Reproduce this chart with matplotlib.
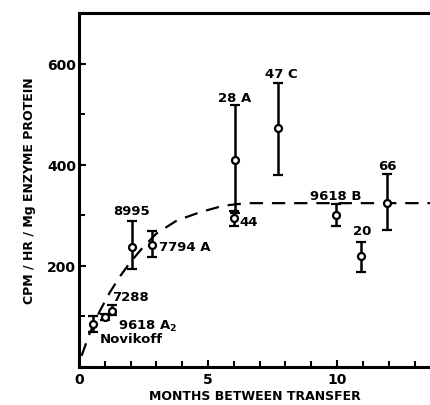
import matplotlib
matplotlib.use("Agg")
import matplotlib.pyplot as plt
from matplotlib.ticker import MultipleLocator, FixedLocator

plt.rcParams['font.family'] = ['DejaVu Sans']
plt.rcParams['font.weight'] = 'bold'

# Data
labels = ["Novikoff", "9618 A$_\\mathbf{2}$", "7288", "8995", "7794 A", "28 A", "44", "47 C", "9618 B", "20", "66"]
months = [0.53, 1.0, 1.26, 2.04, 2.81, 6.03, 6.0, 7.71, 9.97, 10.94, 11.93]
cpm = [85, 98, 111, 237, 242, 410, 295, 472, 301, 219, 325]
err_low = [16, 6, 8, 44, 25, 105, 17, 93, 22, 31, 54]
err_high = [16, 6, 11, 52, 27, 108, 13, 89, 21, 29, 57]

# label anchor positions (data coords) and alignment
label_x = [0.81, 1.51, 1.30, 2.05, 3.1, 6.03, 6.23, 7.84, 9.94, 10.99, 11.95]
label_y = [57, 82, 140, 310, 239, 533, 288, 580, 340, 269, 399]
label_ha = ["left", "left", "left", "center", "left", "center", "left", "center", "center", "center", "center"]

# dashed fit curve
curve_x = [0.1, 0.4, 0.8, 1.2, 1.6, 2.0, 2.4, 3.0, 3.8, 4.75, 5.6, 6.5, 13.6]
curve_y = [22, 65, 110, 148, 180, 208, 232, 264, 290, 307, 319, 324, 324]

x_ticks_major = [0, 5, 10]
y_ticks_major = [200, 400, 600]

fig = plt.figure(figsize=(4.30, 4.06), dpi=100)
ax = fig.add_axes([79/430, 1-368/406, 1-79/430, (368-14)/406])

ax.plot(curve_x, curve_y, color='black', lw=1.6, dashes=(6, 4))
ax.errorbar(months, cpm, yerr=[err_low, err_high], fmt='o', mfc='white', mec='black',
            ecolor='black', ms=5, mew=1.6, elinewidth=1.8, capsize=3.5, capthick=1.8,
            color='black', zorder=3)

for lx, ly, lab, ha in zip(label_x, label_y, labels, label_ha):
    ax.text(lx, ly, lab, ha=ha, va='center', fontsize=9.5, fontweight='bold')

ax.set_xlim(0, 13.6)
ax.set_ylim(0, 700)
ax.xaxis.set_major_locator(FixedLocator(x_ticks_major))
ax.xaxis.set_minor_locator(MultipleLocator(1))
ax.yaxis.set_major_locator(FixedLocator(y_ticks_major))
ax.yaxis.set_minor_locator(MultipleLocator(100))
ax.tick_params(direction='in', which='both', width=1.5, labelsize=10)
ax.tick_params(which='major', length=5)
ax.tick_params(which='minor', length=4)
ax.tick_params(axis='y', pad=2)
for t in ax.get_xticklabels() + ax.get_yticklabels():
    t.set_fontweight('bold')
ax.spines['right'].set_visible(False)
for s in ['left', 'bottom', 'top']:
    ax.spines[s].set_linewidth(2.2)

ax.set_xlabel("MONTHS BETWEEN TRANSFER", fontsize=9, fontweight='bold', labelpad=2)
ax.set_ylabel("CPM / HR / Mg ENZYME PROTEIN", fontsize=9, fontweight='bold', labelpad=8)

fig.savefig("out.png", dpi=100)
